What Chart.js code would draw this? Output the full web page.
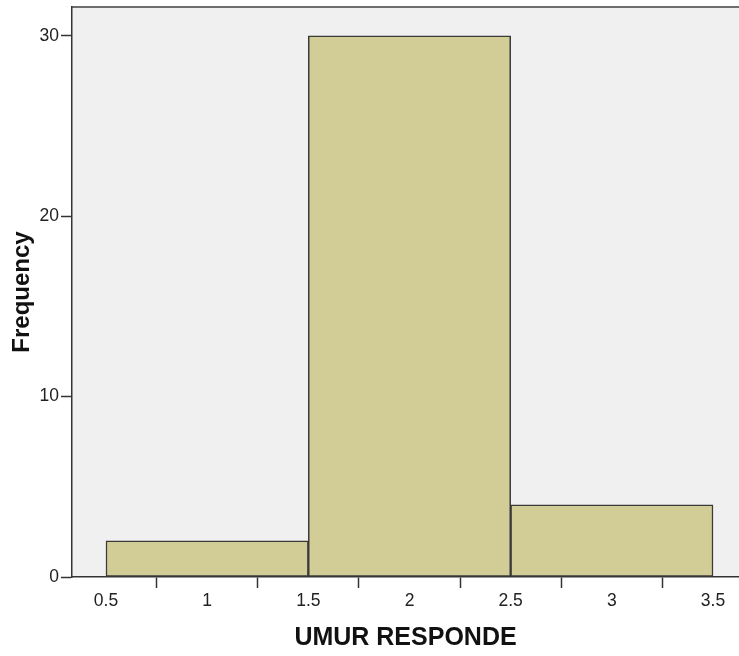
<!DOCTYPE html>
<html>
<head>
<meta charset="utf-8">
<script src="https://cdn.jsdelivr.net/npm/chart.js@4/dist/chart.umd.min.js"></script>
<style>
html,body{margin:0;padding:0;background:#fff;}
#wrap{width:739px;height:656px;position:relative;}
</style>
</head>
<body>
<div id="wrap"><canvas id="c" width="739" height="656"></canvas></div>
<script>
// Data
const binCenters = [1, 2, 3];
const frequencies = [2, 30, 4];
const xTickValues = [0.5, 1, 1.5, 2, 2.5, 3, 3.5];
const xTickLabels = ["0.5", "1", "1.5", "2", "2.5", "3", "3.5"];
const yTickValues = [0, 10, 20, 30];
const yTickLabels = ["0", "10", "20", "30"];
const xTitle = "UMUR RESPONDE";
const yTitle = "Frequency";

const X_MIN = 0.332, X_MAX = 3.6285;

const points = binCenters.map((x, i) => ({x: x, y: frequencies[i]}));

const plotBg = {
  id: 'plotBg',
  beforeDraw(chart) {
    const {ctx, chartArea: a} = chart;
    ctx.save();
    ctx.fillStyle = '#F0F0F0';
    ctx.fillRect(a.left, a.top, a.right - a.left, a.bottom - a.top);
    ctx.strokeStyle = '#6e6e6e';
    ctx.lineWidth = 2;
    ctx.beginPath();
    ctx.moveTo(a.left, a.top);
    ctx.lineTo(a.right, a.top);
    ctx.stroke();
    ctx.restore();
  }
};

const FONT = 'Liberation Sans, Arial, sans-serif';

new Chart(document.getElementById('c'), {
  type: 'bar',
  data: {
    datasets: [{
      data: points,
      xAxisID: 'xBins',
      backgroundColor: '#D2CD96',
      borderColor: '#3a3a3a',
      borderWidth: 1.5,
      barPercentage: 1,
      categoryPercentage: 1,
      borderSkipped: false
    }]
  },
  options: {
    responsive: false,
    animation: false,
    devicePixelRatio: 1,
    layout: {padding: {top: 7, right: 0, left: 0, bottom: 0}},
    plugins: {legend: {display: false}, tooltip: {enabled: false}},
    scales: {
      xBins: {
        type: 'linear',
        position: 'bottom',
        display: false,
        offset: false,
        min: X_MIN,
        max: X_MAX,
        afterBuildTicks(s) { s.ticks = binCenters.map(v => ({value: v})); }
      },
      x: {
        type: 'linear',
        position: 'bottom',
        offset: false,
        min: X_MIN,
        max: X_MAX,
        afterFit(s) { s.height = 79; s.paddingLeft = 0; s.paddingRight = 0; },
        afterBuildTicks(s) { s.ticks = xTickValues.map(v => ({value: v})); },
        ticks: {
          callback: (v) => xTickLabels[xTickValues.indexOf(v)],
          color: '#222',
          font: {family: FONT, size: 17.5},
          padding: 3,
          maxRotation: 0,
          autoSkip: false
        },
        grid: {display: true, drawOnChartArea: false, drawTicks: true, tickLength: 11, tickColor: '#333', tickWidth: 1.5},
        border: {display: true, color: '#333', width: 1.5},
        title: {display: true, text: xTitle, color: '#111',
          font: {family: FONT, size: 25, weight: 'bold'},
          padding: {top: 0, bottom: 3}}
      },
      y: {
        type: 'linear',
        min: 0,
        max: 31.6,
        afterFit(s) { s.width = 72; s.paddingTop = 0; s.paddingBottom = 0; },
        afterBuildTicks(s) { s.ticks = yTickValues.map(v => ({value: v})); },
        ticks: {
          callback: (v) => yTickLabels[yTickValues.indexOf(v)],
          color: '#222',
          font: {family: FONT, size: 17.5},
          padding: 2
        },
        grid: {display: true, drawOnChartArea: false, drawTicks: true, tickLength: 11, tickColor: '#333', tickWidth: 1.5},
        border: {display: true, color: '#333', width: 1.5},
        title: {display: true, text: yTitle, color: '#111',
          font: {family: FONT, size: 24, weight: 'bold'},
          padding: {top: 8, bottom: 0}}
      }
    }
  },
  plugins: [plotBg]
});
</script>
</body>
</html>
